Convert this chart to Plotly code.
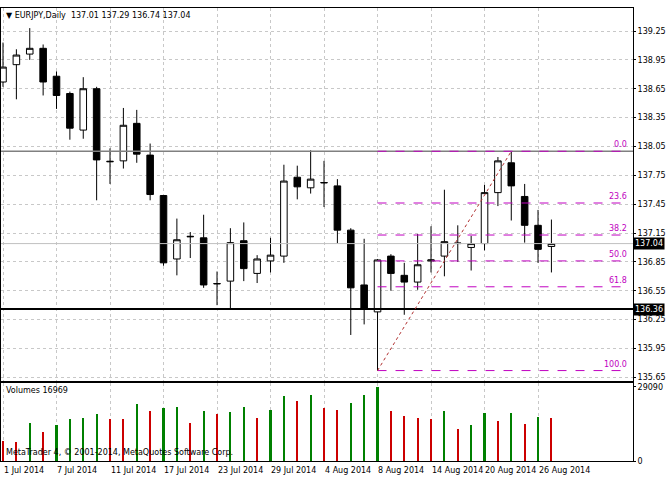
import plotly.graph_objects as go

opens  = [138.72,138.90,139.01,139.07,138.78,138.60,138.22,138.65,137.89,137.90,138.29,137.96,137.54,136.88,137.11,137.10,136.62,136.65,137.07,136.73,136.86,136.91,137.73,137.62,137.67,
          137.64,137.18,136.61,136.33,136.91,136.71,136.64,136.86,136.91,137.04,137.00,137.04,137.57,137.88,137.53,137.23,137.01]
highs  = [139.13,139.06,139.28,139.11,138.83,138.62,138.77,138.67,138.03,138.45,138.43,138.08,137.54,137.30,137.16,137.34,136.75,137.20,137.26,136.92,137.10,137.86,137.85,138.01,137.90,
          137.71,137.20,137.09,136.88,136.93,136.84,137.14,137.22,137.60,137.23,137.12,137.65,137.94,138.00,137.66,137.39,137.29]
lows   = [138.67,138.54,138.95,138.58,138.44,138.12,138.13,137.49,137.66,137.82,137.88,137.49,136.81,136.71,136.89,136.58,136.40,136.36,136.65,136.63,136.74,136.84,137.50,137.56,137.42,
          137.04,136.09,136.20,135.72,136.55,136.30,136.56,136.74,136.70,136.85,136.76,136.97,137.43,137.28,137.05,136.84,136.74]
closes = [138.875,139.00,139.07,138.72,138.58,138.24,138.65,137.91,137.895,138.27,137.97,137.55,136.84,137.08,137.115,136.61,136.625,137.05,136.78,136.88,136.92,137.69,137.63,137.71,137.675,
          137.18,136.58,136.36,136.87,136.73,136.64,136.82,136.87,137.06,137.045,137.04,137.57,137.90,137.64,137.23,136.98,137.04]
volumes = [7930,7490,14880,11570,14100,16530,16860,18510,16530,16530,22370,19830,20940,21270,14880,19610,18510,19280,21160,16860,20170,25340,23690,25900,20940,
           20170,22920,25900,29090,19610,17630,17080,16530,19830,12670,14100,18950,15760,18950,14660,17410,16969]
date_labels = ["1 Jul 2014","7 Jul 2014","11 Jul 2014","17 Jul 2014","23 Jul 2014","29 Jul 2014",
               "4 Aug 2014","8 Aug 2014","14 Aug 2014","20 Aug 2014","26 Aug 2014"]
price_ticks = [135.65,135.95,136.25,136.55,136.85,137.15,137.45,137.75,138.05,138.35,138.65,138.95,139.25]
fib_levels = [0.0,23.6,38.2,50.0,61.8,100.0]

n = len(closes)
xs = list(range(n))
fib_lo_i, fib_hi_i = 28, 38
fib_lo, fib_hi = lows[fib_lo_i], highs[fib_hi_i]
XMIN, XMAX = -0.15, 47.1
fib_end = 46.8
FIB_COL = "#C000C0"

vcol = ["#CC0000"] + ["#008000" if volumes[i] > volumes[i-1] else "#CC0000" for i in range(1, n)]

fig = go.Figure()
fig.add_trace(go.Candlestick(x=xs, open=opens, high=highs, low=lows, close=closes,
    increasing=dict(line=dict(color="black", width=1), fillcolor="white"),
    decreasing=dict(line=dict(color="black", width=1), fillcolor="black"),
    whiskerwidth=0, showlegend=False, hoverinfo="skip", xaxis="x", yaxis="y"))
fig.add_trace(go.Bar(x=xs, y=volumes, marker=dict(color=vcol, line=dict(width=0)), width=0.16,
    showlegend=False, xaxis="x2", yaxis="y2"))

grid = dict(showgrid=True, gridcolor="#C8C8C8", griddash="dot", gridwidth=1)
tickvals = list(range(0, 41, 4))
fig.update_layout(
    width=666, height=500, margin=dict(l=0, r=33, t=0, b=0),
    paper_bgcolor="white", plot_bgcolor="white",
    font=dict(family="DejaVu Sans", size=8, color="black"),
    xaxis=dict(domain=[0.0, 1.0], range=[XMIN, XMAX], tickvals=tickvals, showticklabels=False,
               rangeslider=dict(visible=False), showline=True, linecolor="black", mirror=True, zeroline=False,
               anchor="y", ticks="", **grid),
    yaxis=dict(domain=[0.23, 0.984], range=[135.61, 139.49], side="right", tickvals=price_ticks,
               ticktext=[f"{v:.2f}" for v in price_ticks], ticks="outside", ticklen=2, tickcolor="black",
               showline=True, linecolor="black", mirror=True, zeroline=False, anchor="x", **grid),
    xaxis2=dict(domain=[0.0, 1.0], range=[XMIN, XMAX], tickvals=tickvals, showticklabels=False,
                showline=True, linecolor="black", mirror=True, zeroline=False, anchor="y2", ticks="", **grid),
    yaxis2=dict(domain=[0.068, 0.226], range=[0, 30600], side="right", tickvals=[0, 29090],
                ticktext=["0", "29090"], ticks="outside", ticklen=2, tickcolor="black",
                showline=True, linecolor="black", mirror=True, zeroline=False, showgrid=False, anchor="x2"),
    bargap=0,
)

fig.add_shape(type="line", xref="x", yref="y", x0=XMIN, x1=XMAX, y0=fib_hi, y1=fib_hi, line=dict(color="#808080", width=1.5))
fig.add_shape(type="line", xref="x", yref="y", x0=XMIN, x1=XMAX, y0=136.36, y1=136.36, line=dict(color="black", width=2))
fig.add_shape(type="line", xref="x", yref="y", x0=XMIN, x1=XMAX, y0=closes[-1], y1=closes[-1], line=dict(color="#C0C0C0", width=1))

for lv in fib_levels:
    p = fib_hi - lv / 100 * (fib_hi - fib_lo)
    fig.add_shape(type="line", xref="x", yref="y", x0=fib_lo_i, x1=fib_end, y0=p, y1=p,
                  line=dict(color=FIB_COL, width=1, dash="dash"))
    fig.add_annotation(x=fib_end, y=p, xref="x", yref="y", text=f"{lv:.1f}", showarrow=False,
                       xanchor="right", yanchor="bottom", font=dict(color=FIB_COL, size=8))
fig.add_shape(type="line", xref="x", yref="y", x0=fib_lo_i, x1=fib_hi_i, y0=fib_lo, y1=fib_hi,
              line=dict(color="#B03030", width=1, dash="dot"))

for v in [closes[-1], 136.36]:
    fig.add_annotation(x=1.0, y=v, xref="paper", yref="y", text=f"{v:.2f}", showarrow=False,
                       xanchor="left", yanchor="middle", bgcolor="black", font=dict(color="white", size=8),
                       borderpad=1)

for i, t in zip(tickvals, date_labels):
    fig.add_annotation(x=i - 0.1, y=0.062, xref="x", yref="paper", text=t, showarrow=False,
                       xanchor="left", yanchor="top", font=dict(size=8))

fig.add_annotation(x=0.005, y=0.982, xref="paper", yref="paper", showarrow=False, xanchor="left", yanchor="top",
                   text=f"▼ EURJPY,Daily  {opens[-1]:.2f} {highs[-1]:.2f} {lows[-1]:.2f} {closes[-1]:.2f}", font=dict(size=8))
fig.add_annotation(x=0.005, y=0.224, xref="paper", yref="paper", showarrow=False, xanchor="left", yanchor="top",
                   text=f"Volumes {volumes[-1]}", font=dict(size=8))
fig.add_annotation(x=0.005, y=0.072, xref="paper", yref="paper", showarrow=False, xanchor="left", yanchor="bottom",
                   text="MetaTrader 4, © 2001-2014, MetaQuotes Software Corp.", font=dict(size=8))

fig.write_html("out.html", config={"displayModeBar": False})
with open("out.html", encoding="utf-8") as f:
    html = f.read()
html = html.replace("<body>", '<body style="margin:0;overflow:hidden">', 1)
with open("out.html", "w", encoding="utf-8") as f:
    f.write(html)
